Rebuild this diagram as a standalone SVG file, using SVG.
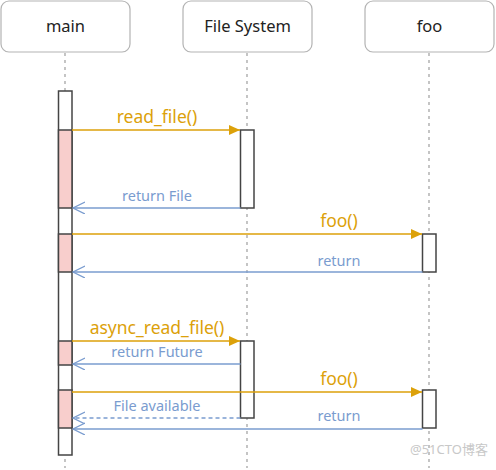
<svg xmlns="http://www.w3.org/2000/svg" width="496" height="470" viewBox="0 0 496 470">
<defs>
<style>
.hdr{fill:#fff;stroke:#b3b3b3;stroke-width:1.2}
.ht{font-family:"Noto Sans","Open Sans",sans-serif;font-size:16.5px;fill:#222;text-anchor:middle}
.life{stroke:#a6a6a6;stroke-width:1.3;stroke-dasharray:3,4;fill:none}
.bar{fill:#fff;stroke:#444;stroke-width:1.5}
.pink{fill:#f8cecc;stroke:#444;stroke-width:1.5}
.call{stroke:#dca10a;stroke-width:1.5;fill:none}
.ret{stroke:#7a9ccf;stroke-width:1.3;fill:none}
.dash{stroke-dasharray:4,3}
.lo{font-family:"Noto Sans","Open Sans",sans-serif;font-size:17.5px;fill:#dca10a;text-anchor:middle}
.lb{font-family:"Noto Sans","Open Sans",sans-serif;font-size:14.5px;fill:#7a9ccf;text-anchor:middle}
</style>
<marker id="fa" markerWidth="12" markerHeight="10" refX="11" refY="5" orient="auto" markerUnits="userSpaceOnUse">
<path d="M0,0 L11,5 L0,10 Z" fill="#dca10a"/>
</marker>
<marker id="oa" markerWidth="14" markerHeight="14" refX="12" refY="6" orient="auto" markerUnits="userSpaceOnUse">
<path d="M0,0 L12,6 L0,12" fill="none" stroke="#7a9ccf" stroke-width="1.3"/>
</marker>
</defs>
<rect width="496" height="470" fill="#fff"/>
<g id="lifelines">
<line class="life" x1="65" y1="53" x2="65" y2="468"/>
<line class="life" x1="247" y1="53" x2="247" y2="468"/>
<line class="life" x1="429" y1="53" x2="429" y2="468"/>
</g>
<g id="main">
<rect class="hdr" x="1" y="1" width="129" height="51" rx="8"/>
<text class="ht" x="65.5" y="32">main</text>
<rect class="bar" x="58.5" y="91" width="13.5" height="364"/>
<rect class="pink" x="58.5" y="130" width="13.5" height="78"/>
<rect class="pink" x="58.5" y="234" width="13.5" height="38"/>
<rect class="pink" x="58.5" y="341" width="13.5" height="24"/>
<rect class="pink" x="58.5" y="390" width="13.5" height="38"/>
</g>
<g id="filesystem">
<rect class="hdr" x="183" y="1" width="129" height="51" rx="8"/>
<text class="ht" x="247.5" y="32">File System</text>
<rect class="bar" x="240.5" y="130" width="13.5" height="78"/>
<rect class="bar" x="240.5" y="341" width="13.5" height="77"/>
</g>
<g id="foo">
<rect class="hdr" x="365" y="1" width="129" height="51" rx="8"/>
<text class="ht" x="429.5" y="32">foo</text>
<rect class="bar" x="422.5" y="234" width="13.5" height="38"/>
<rect class="bar" x="422.5" y="390" width="13.5" height="38"/>
</g>
<g id="connectors">
<line class="call" x1="72" y1="130" x2="240" y2="130" marker-end="url(#fa)"/>
<text class="lo" x="157" y="123">read_file()</text>
<line class="ret" x1="240.5" y1="208" x2="73" y2="208" marker-end="url(#oa)"/>
<text class="lb" x="157" y="201">return File</text>
<line class="call" x1="72" y1="234" x2="422" y2="234" marker-end="url(#fa)"/>
<text class="lo" x="339" y="227">foo()</text>
<line class="ret" x1="422.5" y1="272" x2="73" y2="272" marker-end="url(#oa)"/>
<text class="lb" x="339" y="266">return</text>
<line class="call" x1="72" y1="341" x2="240" y2="341" marker-end="url(#fa)"/>
<text class="lo" x="157" y="334">async_read_file()</text>
<line class="ret" x1="240.5" y1="364" x2="73" y2="364" marker-end="url(#oa)"/>
<text class="lb" x="157" y="357">return Future</text>
<line class="call" x1="72" y1="392" x2="422" y2="392" marker-end="url(#fa)"/>
<text class="lo" x="339" y="385">foo()</text>
<line class="ret dash" x1="240.5" y1="418" x2="73" y2="418" marker-end="url(#oa)"/>
<text class="lb" x="157" y="411">File available</text>
<line class="ret" x1="422.5" y1="429" x2="73" y2="429" marker-end="url(#oa)"/>
<text class="lb" x="339" y="421">return</text>
</g>
<text x="410" y="454" font-family="'Noto Sans','Noto Sans CJK SC',sans-serif" font-size="13" fill="#c8c8c8">@51CTO博客</text>
</svg>
